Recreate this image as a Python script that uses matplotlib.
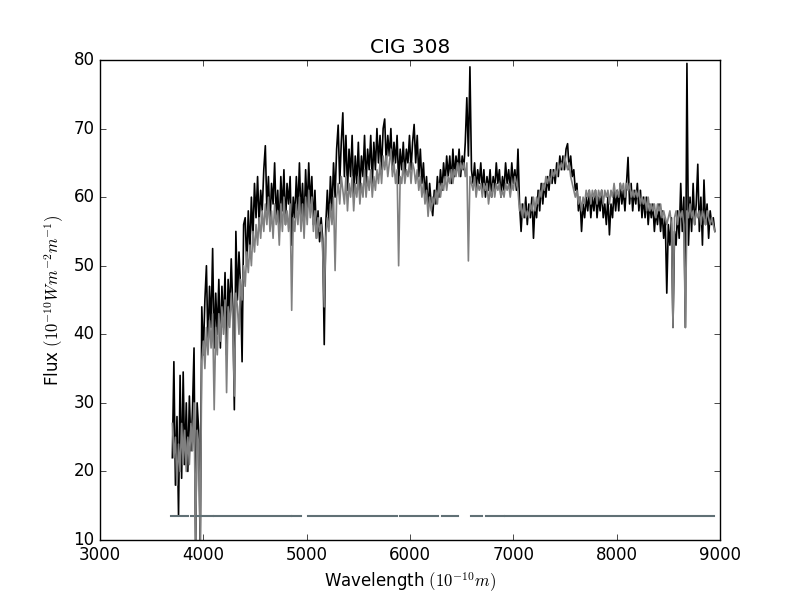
import numpy as np
import matplotlib
matplotlib.use('Agg')
import matplotlib.pyplot as plt

plt.style.use('classic')

# observed spectrum (black), sampled every 15 A from 3700 A
flux_obs = [
    22, 36, 18, 28, 13.5, 34, 19, 34.5, 21, 30,
    20, 31, 23, 29, 38, 9, 30, 26, 8, 44,
    37, 45, 50, 38, 47, 41, 52.5, 38, 46, 40,
    48, 38, 47, 41, 49, 37, 48, 43, 51, 44,
    29, 55, 45, 52, 47, 36, 56, 57, 50, 58,
    52, 60, 54, 62, 57, 63, 56, 61, 58, 64,
    67.5, 58, 63, 56, 62, 59, 65, 57, 61, 55,
    63, 58, 64, 56, 62, 59, 63, 53, 60, 57,
    63, 58, 65, 57, 62, 56, 64, 58, 65, 59,
    63, 56, 61, 54, 58, 53.5, 57, 54, 38.5, 56,
    61, 56, 63, 58, 65, 60, 67, 70.5, 62, 68,
    72.3, 63, 69, 61, 67, 63, 69, 60, 66, 62,
    68, 61, 66, 63, 69, 62, 67, 64, 69, 62,
    68, 64, 70, 65, 69, 64, 70, 71.4, 65, 69,
    66, 70, 64, 68, 65, 69, 62, 67, 64, 68,
    63, 67, 65, 69, 64, 68, 70.6, 65, 69, 63,
    67, 62, 65, 60, 63, 58, 62, 59, 57.3, 61,
    59, 63, 60, 64, 61, 65, 62, 66, 63, 66,
    62, 67, 63, 66, 64, 67, 63, 66, 64, 68,
    74.5, 66, 79, 64, 62, 65, 61, 64, 62, 65,
    61, 64, 60, 63, 61, 64, 60, 63, 61, 65,
    62, 64, 60, 63, 61, 65, 62, 64, 61, 65,
    62, 64, 61, 67, 59, 55, 59, 57, 60, 56,
    59, 57, 60, 54, 59, 57, 61, 58, 62, 59,
    62, 60, 63, 61, 64, 62, 64, 62, 65, 63,
    66, 64, 66, 64, 67, 67.8, 64, 66, 63, 64,
    61, 62, 58, 60, 55, 59, 57, 60, 58, 61,
    57, 60, 58, 61, 57, 60, 58, 61, 57, 59,
    56, 60, 54.5, 59, 57, 61, 58, 61, 58, 62,
    59, 61, 58, 62, 65.8, 59, 62, 58, 61, 59,
    62, 58, 61, 57, 60, 57, 60, 56, 59, 57,
    59, 55, 58, 56, 59, 55, 58, 54, 57, 46,
    56, 53, 57, 41, 55, 53, 58, 54, 62, 55,
    60, 41, 79.5, 53, 60, 55, 62, 56, 59, 64.8,
    55, 60, 53, 62.5, 56, 59, 54, 58, 56, 57,
    55,
]

# fitted model spectrum (grey), same sampling
flux_fit = [
    27, 22, 25, 18, 24, 20, 27, 21, 26, 20,
    25, 21, 27, 23, 30, 10, 26, 24, 10, 36,
    39, 35, 41, 37, 42, 38, 43, 29, 41, 37,
    43, 39, 44, 40, 45, 31.5, 44, 41, 46, 42,
    31, 46, 44, 40, 48, 45, 50, 47, 52, 49,
    53, 50, 55, 52, 56, 53, 57, 54, 58, 55,
    59, 56, 60, 55, 58, 54, 59, 56, 58, 53,
    59, 55, 60, 56, 58, 55, 59, 43.5, 57, 55,
    59, 56, 60, 55, 59, 54, 60, 56, 61, 57,
    60, 55, 58, 54, 57, 55, 56, 52, 44, 54,
    57, 55, 59, 56, 60, 49.3, 60, 62, 59, 63,
    61, 59, 63, 58, 62, 60, 63, 58, 62, 60,
    63, 59, 62, 60, 64, 60, 63, 61, 64, 60,
    63, 61, 64, 62, 65, 62, 66, 64, 66, 63,
    65, 67, 63, 65, 62, 64, 50, 63, 62, 65,
    62, 64, 63, 65, 62, 65, 64, 62, 64, 61,
    63, 60, 62, 59, 61, 57.2, 60, 58, 60, 59,
    61, 59, 62, 60, 62, 61, 63, 61, 63, 62,
    64, 62, 64, 63, 65, 63, 65, 64, 65, 63,
    65, 50.7, 63, 62, 61, 63, 60, 62, 61, 62,
    60, 62, 61, 62, 59, 61, 60, 62, 60, 62,
    61, 62, 60, 61, 60, 62, 61, 62, 60, 62,
    61, 63, 62, 61, 58, 59, 57, 59, 57, 58,
    57, 59, 58, 60, 58, 60, 59, 61, 60, 62,
    61, 63, 62, 63, 62, 64, 63, 64, 63, 65,
    64, 65, 64, 66, 65, 64, 65, 63, 62, 61,
    60, 61, 59, 60, 58, 60, 59, 61, 60, 61,
    59, 61, 60, 61, 59, 61, 60, 61, 59, 61,
    60, 61, 59, 61, 60, 62, 60, 61, 60, 62,
    61, 62, 60, 62, 61, 62, 60, 61, 60, 61,
    60, 61, 59, 60, 59, 60, 58, 60, 58, 59,
    58, 59, 57, 59, 58, 59, 57, 58, 57, 56,
    57, 58, 56, 41, 57, 58, 56, 58, 57, 58,
    56, 41, 58, 57, 59, 57, 58, 56, 58, 57,
    58, 56, 58, 57, 56, 58, 57, 56, 57, 56,
    55,
]

# unmasked wavelength windows (drawn as a flat line near the bottom)
mask_start = [3687, 3726, 3881, 3929, 3997, 4103, 4858, 5013, 5903, 6310, 6590, 6735, 6919, 8855]
mask_end = [3706, 3852, 3900, 3977, 4094, 4848, 4945, 5874, 6271, 6465, 6697, 6910, 8835, 8942]
mask_level = 13.5

wl_obs = 3700 + 15 * np.arange(len(flux_obs))
wl_fit = 3700 + 15 * np.arange(len(flux_fit))

mx, my = [], []
for a, b in zip(mask_start, mask_end):
    mx += [a, b, np.nan]
    my += [mask_level, mask_level, np.nan]

fig = plt.figure(figsize=(8, 6), dpi=100, facecolor='white')
ax = fig.add_subplot(111)
ax.plot(wl_obs, flux_obs, color='black', lw=1.2)
ax.plot(wl_fit, flux_fit, color='#808080', lw=1.2)
ax.plot(mx, my, color='#607075', lw=1.5)

ax.set_xlim(3000, 9000)
ax.set_ylim(10, 80)
ax.set_title('CIG 308')
ax.set_xlabel(r'Wavelength $(10^{-10} m)$')
ax.set_ylabel(r'Flux $(10^{-10} W m^{-2} m^{-1})$')

fig.savefig('out.png', dpi=100, facecolor='white')
